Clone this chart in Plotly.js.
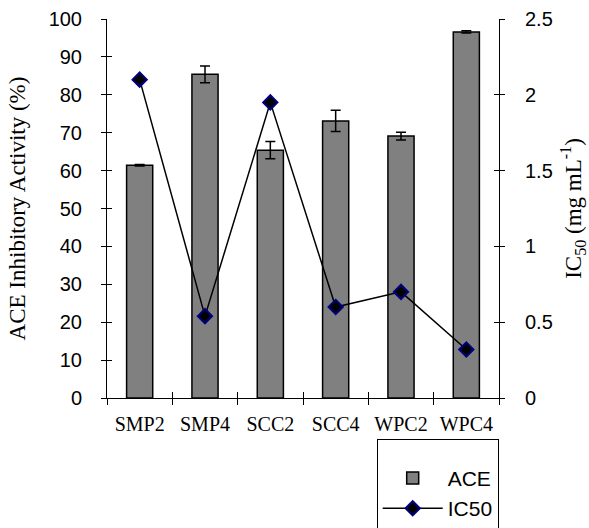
<!DOCTYPE html>
<html>
<head>
<meta charset="utf-8">
<script src="https://cdn.plot.ly/plotly-3.0.1.min.js"></script>
<style>html,body{margin:0;padding:0;background:#fff;}#chart{width:589px;height:528px;}</style>
</head>
<body>
<div id="chart"></div>
<script>
const categories = ["SMP2", "SMP4", "SCC2", "SCC4", "WPC2", "WPC4"];
const aceValues = [61.4, 85.4, 65.4, 73.1, 69.1, 96.6];
const aceErrors = [0.2, 2.2, 2.3, 2.8, 1.0, 0.3];
const ic50Values = [2.10, 0.54, 1.95, 0.60, 0.70, 0.32];
const leftTicks = [0, 10, 20, 30, 40, 50, 60, 70, 80, 90, 100];
const rightTicks = [0, 0.5, 1, 1.5, 2, 2.5];
const rightTickLabels = ["0", "0.5", "1", "1.5", "2", "2.5"];
const categoryBoundaries = [-0.5, 0.5, 1.5, 2.5, 3.5, 4.5, 5.5];

const serif = "Liberation Serif, Times New Roman, serif";
const sans = "Liberation Sans, Arial, sans-serif";

const traces = [
  {
    type: "bar", name: "ACE", x: categories, y: aceValues,
    width: 0.4,
    marker: {color: "#808080", line: {color: "#000000", width: 1.5}},
    error_y: {type: "data", array: aceErrors, visible: true, color: "#000000", thickness: 1.5, width: 5},
    legendgroup: "a"
  },
  {
    type: "scatter", mode: "lines+markers", name: "IC50", x: categories, y: ic50Values,
    yaxis: "y2",
    line: {color: "#000000", width: 1.5},
    marker: {symbol: "diamond", size: 11, color: "#000000", line: {color: "#000080", width: 2}},
    legendgroup: "b"
  },
  {type: "scatter", x: [], y: [], xaxis: "x2", yaxis: "y3", showlegend: false, hoverinfo: "skip"},
  {type: "scatter", x: [], y: [], xaxis: "x2", yaxis: "y4", showlegend: false, hoverinfo: "skip"}
];

const layout = {
  width: 589, height: 528,
  margin: {l: 107, r: 90, t: 19, b: 130, autoexpand: false},
  paper_bgcolor: "#ffffff", plot_bgcolor: "#ffffff",
  showlegend: true,
  legend: {
    x: 0.688, y: -0.107, xanchor: "left", yanchor: "top",
    bordercolor: "#000000", borderwidth: 1,
    font: {family: sans, size: 21, color: "#000000"},
    title: {text: " ", font: {size: 14}},
    traceorder: "grouped", tracegroupgap: 0,
    itemwidth: 60
  },
  xaxis: {
    type: "category",
    showline: true, linecolor: "#000000", linewidth: 1,
    ticks: "outside", tickson: "boundaries", ticklen: 6, tickcolor: "#000000",
    ticklabelstandoff: 8, tickangle: 0,
    tickfont: {family: serif, size: 20, color: "#000000"},
    showgrid: false, zeroline: false, fixedrange: true
  },
  xaxis2: {
    overlaying: "x", range: [-0.5, 5.5], tickvals: categoryBoundaries,
    ticks: "inside", ticklen: 6, tickcolor: "#000000",
    showticklabels: false, showline: false, showgrid: false, zeroline: false
  },
  yaxis: {
    range: [0, 100], tickvals: leftTicks,
    showline: true, linecolor: "#000000", linewidth: 1,
    ticks: "outside", ticklen: 5, tickcolor: "#000000",
    ticklabelstandoff: 15,
    tickfont: {family: sans, size: 20, color: "#000000"},
    showgrid: false, zeroline: false,
    title: {text: "ACE Inhibitory Activity (%)", font: {family: serif, size: 23, color: "#000000"}, standoff: 16}
  },
  yaxis2: {
    range: [0, 2.5], tickvals: rightTicks, ticktext: rightTickLabels,
    overlaying: "y", side: "right",
    showline: true, linecolor: "#000000", linewidth: 1,
    ticks: "outside", ticklen: 5, tickcolor: "#000000",
    ticklabelstandoff: 16,
    tickfont: {family: sans, size: 20, color: "#000000"},
    showgrid: false, zeroline: false,
    title: {text: "IC<sub>50</sub> (mg mL<sup>-1</sup>)", font: {family: serif, size: 23, color: "#000000"}, standoff: 15}
  },
  yaxis3: {
    range: [0, 100], tickvals: leftTicks, overlaying: "y", side: "left",
    showline: false, ticks: "inside", ticklen: 5, tickcolor: "#000000",
    showticklabels: false, showgrid: false, zeroline: false
  },
  yaxis4: {
    range: [0, 2.5], tickvals: rightTicks, overlaying: "y", side: "right",
    showline: false, ticks: "inside", ticklen: 5, tickcolor: "#000000",
    showticklabels: false, showgrid: false, zeroline: false
  }
};

Plotly.newPlot("chart", traces, layout, {displayModeBar: false, staticPlot: true});
</script>
</body>
</html>
